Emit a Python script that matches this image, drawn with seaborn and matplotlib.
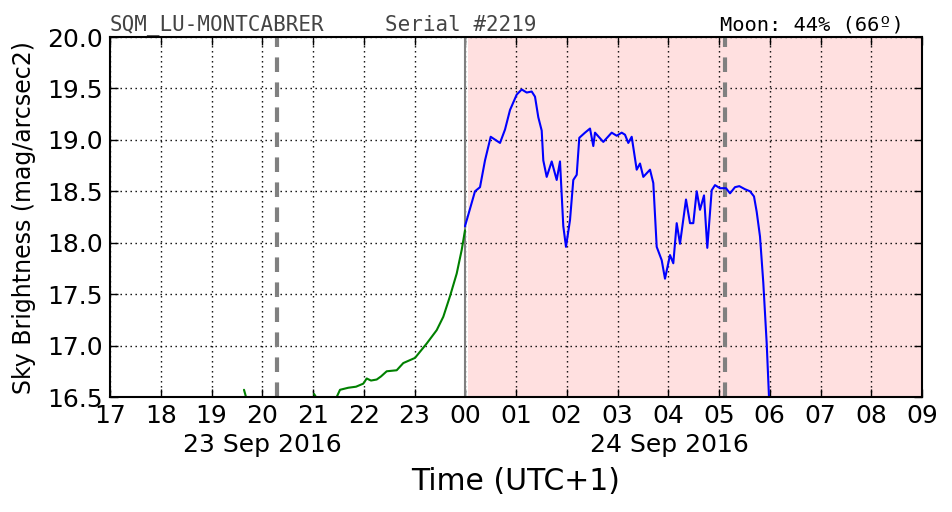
import numpy as np
import pandas as pd
import matplotlib
matplotlib.use("Agg")
import matplotlib.pyplot as plt
import matplotlib.transforms as mtrans
import seaborn as sns

# ---- data (hours since 00:00 of 23 Sep 2016, local UTC+1) ----
green_px = [244, 246, None, 314, 316, None, 336.7, 340, 348.3, 356, 363.3, 366.7, 371, 376.7, 381,
            386.7, 396.7, 403.3, 415, 426.7, 436.7, 443.3, 450, 456.7, 461.7, 465]
green_mag = [16.57, 16.50, None, 16.53, 16.50, None, 16.50, 16.57, 16.59, 16.60, 16.63, 16.68, 16.66,
             16.67, 16.70, 16.75, 16.76, 16.83, 16.88, 17.02, 17.15, 17.28, 17.48, 17.70, 17.93, 18.12]

blue_px = [465, 475, 480, 485, 490.7, 500, 505, 510, 516.7, 521.7, 526.7, 531.7, 535, 538.3, 541.7,
           543.3, 546.7, 551.7, 556.7, 560, 563.3, 566, 570, 573.3, 576.7, 579.3, 585, 590, 593.3,
           595, 603.3, 611.7, 616.7, 621.7, 625, 628.3, 631.7, 636.7, 640, 643.3, 650, 653.3, 656.7,
           661.7, 665, 670, 673.3, 676.7, 680, 686, 690, 693.3, 696.7, 700, 704, 707.3, 711.7, 715,
           720, 726, 730, 735, 739.3, 745, 750, 754, 756.7, 760, 763.3, 766.7, 769]
blue_mag = [18.16, 18.50, 18.54, 18.80, 19.03, 18.97, 19.10, 19.29, 19.44, 19.49, 19.46, 19.47, 19.42,
            19.22, 19.09, 18.80, 18.64, 18.79, 18.61, 18.79, 18.16, 17.96, 18.22, 18.61, 18.66, 19.02,
            19.07, 19.11, 18.94, 19.07, 18.98, 19.07, 19.04, 19.07, 19.05, 18.97, 19.03, 18.71, 18.77,
            18.64, 18.71, 18.58, 17.96, 17.83, 17.65, 17.88, 17.80, 18.19, 17.99, 18.42, 18.19, 18.19,
            18.50, 18.32, 18.46, 17.95, 18.51, 18.56, 18.53, 18.53, 18.48, 18.54, 18.55, 18.52, 18.50,
            18.45, 18.30, 18.06, 17.61, 17.02, 16.50]

def px_to_hour(p):
    return None if p is None else 17 + (p - 110) / 50.75

green_hours = [px_to_hour(p) for p in green_px]
blue_hours = [px_to_hour(p) for p in blue_px]

tick_hours = list(range(17, 34))
tick_labels = ["17", "18", "19", "20", "21", "22", "23", "00", "01", "02", "03",
               "04", "05", "06", "07", "08", "09"]
date_labels = ["23 Sep 2016", "24 Sep 2016"]
date_pos = [20.0, 28.03]
moon_lines = [20.29, 29.12]
night_start = 24.05
midnight = 24.0

# ---- plot ----
sns.set_theme(style="ticks")
plt.rcParams['font.family'] = ['DejaVu Sans']
plt.rcParams['text.color'] = 'black'
plt.rcParams['axes.labelcolor'] = 'black'
fig = plt.figure(figsize=(9.52, 5.12), dpi=100)
ax = fig.add_axes([110/952, 1-397/512, (922-110)/952, (397-37)/512])

ax.axvspan(night_start, 33, color="#ffe0e0", zorder=0, lw=0)

# green segments (split at None)
seg_x, seg_y = [], []
segs = []
for h, m in zip(green_hours, green_mag):
    if h is None:
        segs.append((seg_x, seg_y)); seg_x, seg_y = [], []
    else:
        seg_x.append(h); seg_y.append(m)
segs.append((seg_x, seg_y))
for sx, sy in segs:
    df = pd.DataFrame({"h": sx, "m": sy})
    sns.lineplot(data=df, x="h", y="m", ax=ax, color="green", lw=1.5, sort=False,
                 estimator=None, zorder=3)

dfb = pd.DataFrame({"h": blue_hours, "m": blue_mag})
sns.lineplot(data=dfb, x="h", y="m", ax=ax, color="blue", lw=1.5, sort=False,
             estimator=None, zorder=3)

ax.axvline(midnight, color="gray", lw=1.5, zorder=2)
for ml in moon_lines:
    ax.axvline(ml, color="gray", lw=3, ls=(0, (3.5, 2.5)), zorder=2)

ax.set_xlim(17, 33)
ax.set_ylim(16.5, 20.0)
ax.set_xticks(tick_hours)
ax.set_xticklabels(tick_labels)
yt = np.arange(16.5, 20.01, 0.5)
ax.set_yticks(yt)
ax.set_yticklabels([f"{v:.1f}" for v in yt])
ax.tick_params(axis="both", which="major", direction="in", length=6, width=1,
               top=True, right=True, labelsize=18, colors="black", pad=5)
ax.grid(True, which="major", color="black", ls=(0, (1, 2.6)), lw=1)
for s in ax.spines.values():
    s.set_color("black"); s.set_linewidth(1.5); s.set_zorder(5)

blend = mtrans.blended_transform_factory(ax.transData, fig.transFigure)
for dp, dl in zip(date_pos, date_labels):
    ax.text(dp, 1-445/512, dl, transform=blend,
            fontsize=18, color="black", ha="center", va="center")

ax.set_xlabel("Time (UTC+1)", fontsize=21.5, color="black")
ax.xaxis.set_label_coords(0.5, 1-482/512,
                          transform=mtrans.blended_transform_factory(ax.transAxes, fig.transFigure))
ax.xaxis.label.set_va("center")
ax.set_ylabel("Sky Brightness (mag/arcsec2)", fontsize=17, color="black")
ax.yaxis.set_label_coords(24/952, 1-218/512, transform=fig.transFigure)
ax.yaxis.label.set_va("center")

fig.text(110/952, 1-25/512, "SQM_LU-MONTCABRER", family="DejaVu Sans Mono",
         fontsize=15, color="#444444", va="center", ha="left")
fig.text(385/952, 1-25/512, "Serial #2219", family="DejaVu Sans Mono",
         fontsize=15, color="#444444", va="center", ha="left")
fig.text(904/952, 1-25/512, "Moon: 44% (66º)", family="DejaVu Sans Mono",
         fontsize=14.7, color="black", va="center", ha="right")

fig.savefig("out.png", dpi=100, facecolor="white")
